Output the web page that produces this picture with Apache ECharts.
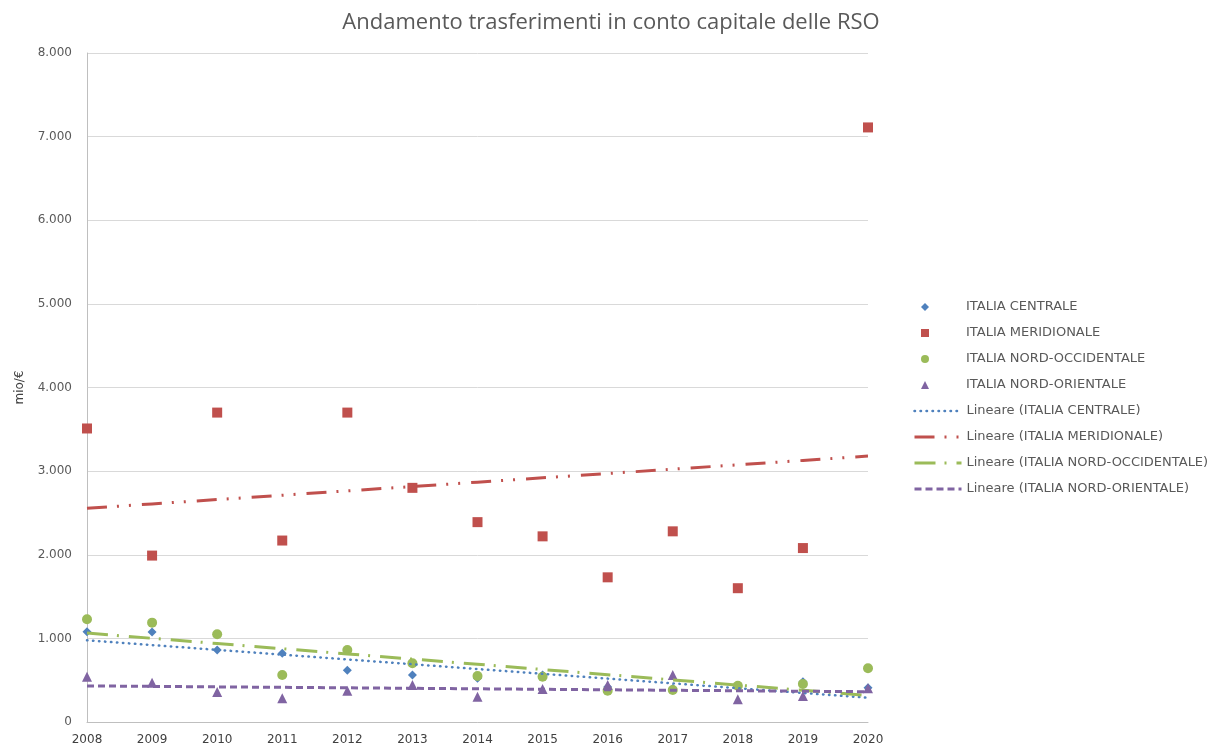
<!DOCTYPE html>
<html>
<head>
<meta charset="utf-8">
<style>
  html, body { margin: 0; padding: 0; background: #ffffff; }
  #chart { width: 1222px; height: 749px; }
</style>
<script src="https://cdn.jsdelivr.net/npm/echarts@6/dist/echarts.min.js"></script>
</head>
<body>
<div id="chart"></div>
<script>
// Anni e trasferimenti in conto capitale (mio/€) per area geografica
const years = ['2008', '2009', '2010', '2011', '2012', '2013', '2014', '2015', '2016', '2017', '2018', '2019', '2020'];
const centrale = [1080, 1077, 861, 822, 618, 562, 522, 562, 420, 400, 420, 482, 410];
const meridionale = [3510, 1990, 3700, 2170, 3700, 2800, 2390, 2220, 1730, 2280, 1600, 2080, 7110];
const nordOccidentale = [1228, 1188, 1049, 562, 861, 702, 550, 542, 375, 383, 434, 455, 642];
const nordOrientale = [542, 470, 359, 283, 375, 443, 303, 395, 443, 562, 271, 311, 403];
const yTicks = { min: 0, max: 8000, interval: 1000 };

const names = ['ITALIA CENTRALE', 'ITALIA MERIDIONALE', 'ITALIA NORD-OCCIDENTALE', 'ITALIA NORD-ORIENTALE'];
const colors = ['#4F81BD', '#C0504D', '#9BBB59', '#8064A2'];
const symbols = ['diamond', 'rect', 'circle', 'triangle'];
const sizes = [9, 10, 10, 10];
const values = [centrale, meridionale, nordOccidentale, nordOrientale];
const dashes = [[0.5, 5.5], [20, 10, 2, 10, 2, 11], [21, 9, 2, 10], [7, 4]];
const dashWidths = [2.5, 3, 3, 3];

// Least-squares linear trend evaluated at every category index
function linearTrend(arr) {
  const n = arr.length;
  let sx = 0, sy = 0, sxx = 0, sxy = 0;
  arr.forEach((v, i) => { sx += i; sy += v; sxx += i * i; sxy += i * v; });
  const b = (n * sxy - sx * sy) / (n * sxx - sx * sx);
  const a = (sy - b * sx) / n;
  return arr.map((_, i) => +(a + b * i).toFixed(1));
}

// Italian thousands separator
function fmt(v) {
  return String(v).replace(/\B(?=(\d{3})+(?!\d))/g, '.');
}

function lineStyleFor(k) {
  return { color: colors[k], width: dashWidths[k], type: dashes[k], cap: k === 0 ? 'round' : 'butt' };
}

const series = [];
names.forEach((name, k) => {
  series.push({
    name: name,
    type: 'scatter',
    data: values[k],
    symbol: symbols[k],
    symbolSize: sizes[k],
    itemStyle: { color: colors[k], opacity: 1 },
    z: 2 + k
  });
});
names.forEach((name, k) => {
  series.push({
    name: 'Lineare (' + name + ')',
    type: 'line',
    data: linearTrend(values[k]),
    symbol: 'none',
    silent: true,
    lineStyle: lineStyleFor(k),
    itemStyle: { color: colors[k] },
    z: 10
  });
});

const chart = echarts.init(document.getElementById('chart'), null, { renderer: 'canvas' });
chart.setOption({
  animation: false,
  backgroundColor: '#ffffff',
  color: colors,
  title: {
    text: 'Andamento trasferimenti in conto capitale delle RSO',
    left: 'center',
    top: 7,
    textStyle: { fontFamily: 'Open Sans', fontSize: 22, fontWeight: 'normal', color: '#595959' }
  },
  grid: { left: 87, right: 354, top: 53, bottom: 27, containLabel: false },
  legend: [
    {
      orient: 'vertical',
      left: 916,
      top: 295,
      itemWidth: 8,
      itemHeight: 8,
      itemGap: 12,
      data: names,
      itemStyle: { opacity: 1 },
      formatter: function (n) { return '{pad|}' + n; },
      textStyle: {
        fontFamily: 'DejaVu Sans', fontSize: 13, color: '#595959', lineHeight: 14,
        rich: { pad: { width: 32 } }
      }
    },
    {
      orient: 'vertical',
      left: 908,
      top: 399,
      itemWidth: 47,
      itemHeight: 14,
      itemGap: 12,
      itemStyle: { opacity: 0 },
      data: names.map((n, k) => ({ name: 'Lineare (' + n + ')', lineStyle: lineStyleFor(k) })),
      textStyle: { fontFamily: 'DejaVu Sans', fontSize: 13, color: '#595959', lineHeight: 14 }
    }
  ],
  xAxis: {
    type: 'category',
    data: years,
    boundaryGap: false,
    axisLine: { show: true, lineStyle: { color: '#bfbfbf', width: 1 } },
    axisTick: { show: false },
    axisLabel: { fontFamily: 'DejaVu Sans', fontSize: 12, color: '#404040', margin: 12 },
    splitLine: { show: false }
  },
  yAxis: {
    type: 'value',
    min: yTicks.min,
    max: yTicks.max,
    interval: yTicks.interval,
    name: 'mio/€',
    nameLocation: 'middle',
    nameRotate: 90,
    nameGap: 61,
    nameTextStyle: { fontFamily: 'DejaVu Sans', fontSize: 12, color: '#404040' },
    axisLine: { show: true, lineStyle: { color: '#bfbfbf', width: 1 } },
    axisTick: { show: false },
    axisLabel: { fontFamily: 'DejaVu Sans', fontSize: 12, color: '#595959', margin: 15, formatter: fmt },
    splitLine: { show: true, lineStyle: { color: '#d9d9d9', width: 1 } }
  },
  series: series
});
</script>
</body>
</html>
